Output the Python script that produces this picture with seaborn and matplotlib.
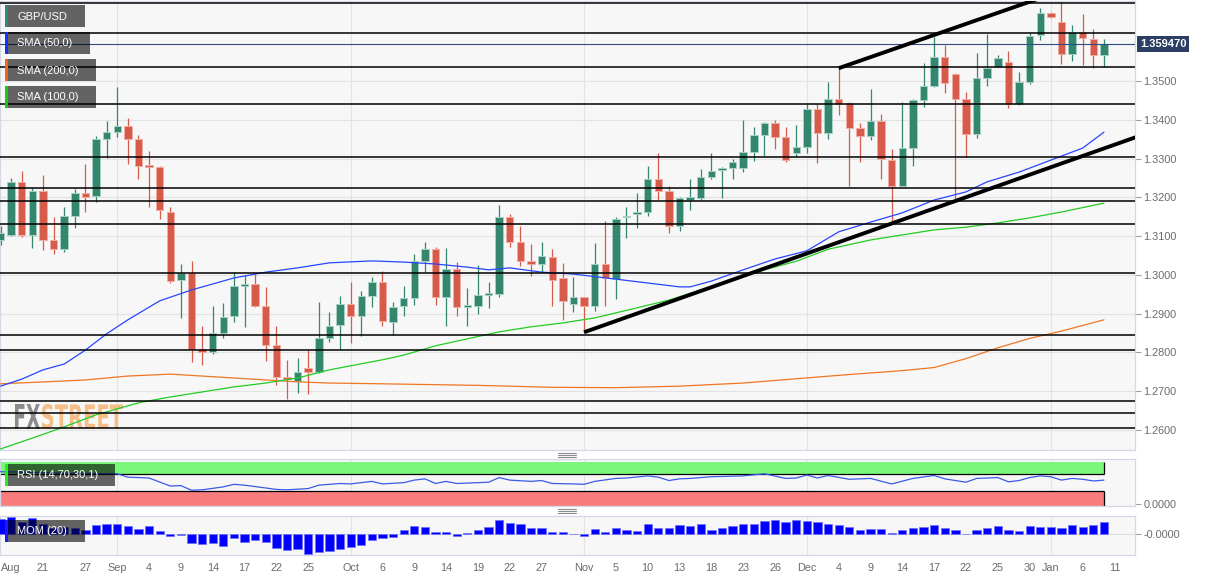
import matplotlib
matplotlib.use("Agg")
import numpy as np
import matplotlib.pyplot as plt
import seaborn as sns
from matplotlib.patches import Rectangle, PathPatch
from matplotlib.lines import Line2D
from matplotlib.transforms import Affine2D
from matplotlib.textpath import TextPath
from matplotlib.font_manager import FontProperties

# --- GBP/USD daily candles, one per weekday: index 0 = 17 Aug 2020 ... index 104 = 8 Jan 2021 ---
opens = [
    1.3091, 1.3104, 1.3240, 1.3102, 1.3215, 1.3089, 1.3066, 1.3153, 1.3212, 1.3204,
    1.3351, 1.3369, 1.3384, 1.3351, 1.3282, 1.3279, 1.3163, 1.2986, 1.3004, 1.2809,
    1.2801, 1.2850, 1.2893, 1.2971, 1.2976, 1.2919, 1.2819, 1.2737, 1.2726, 1.2760,
    1.2750, 1.2837, 1.2870, 1.2924, 1.2893, 1.2945, 1.2981, 1.2878, 1.2919, 1.2940,
    1.3035, 1.3066, 1.2942, 1.3014, 1.2917, 1.2919, 1.2947, 1.2950, 1.3150, 1.3084,
    1.3037, 1.3027, 1.3045, 1.2991, 1.2924, 1.2942, 1.2919, 1.3027, 1.2989, 1.3148,
    1.3158, 1.3161, 1.3248, 1.3217, 1.3125, 1.3194, 1.3199, 1.3253, 1.3271, 1.3276,
    1.3276, 1.3318, 1.3361, 1.3392, 1.3356, 1.3315, 1.3330, 1.3428, 1.3366, 1.3454,
    1.3443, 1.3379, 1.3359, 1.3397, 1.3297, 1.3228, 1.3328, 1.3451, 1.3487, 1.3562,
    1.3518, 1.3454, 1.3364, 1.3508, 1.3536, 1.3549, 1.3441, 1.3497, 1.3618, 1.3675,
    1.3652, 1.3569, 1.3626, 1.3608, 1.3567,
]
highs = [
    1.3125, 1.3251, 1.3269, 1.3225, 1.3258, 1.3150, 1.3174, 1.3222, 1.3287, 1.3359,
    1.3397, 1.3485, 1.3405, 1.3361, 1.3320, 1.3282, 1.3176, 1.3027, 1.3035, 1.2868,
    1.2919, 1.2927, 1.3007, 1.2999, 1.3001, 1.2968, 1.2868, 1.2780, 1.2786, 1.2806,
    1.2929, 1.2904, 1.2945, 1.2981, 1.2958, 1.2994, 1.3009, 1.2930, 1.2971, 1.3053,
    1.3086, 1.3073, 1.3068, 1.3032, 1.2965, 1.3025, 1.2981, 1.3179, 1.3158, 1.3125,
    1.3079, 1.3084, 1.3066, 1.3030, 1.2994, 1.2944, 1.3081, 1.3140, 1.3150, 1.3176,
    1.3210, 1.3282, 1.3315, 1.3228, 1.3200, 1.3246, 1.3274, 1.3315, 1.3279, 1.3300,
    1.3400, 1.3382, 1.3395, 1.3400, 1.3382, 1.3387, 1.3441, 1.3441, 1.3497, 1.3533,
    1.3445, 1.3392, 1.3479, 1.3415, 1.3325, 1.3446, 1.3454, 1.3546, 1.3613, 1.3593,
    1.3520, 1.3472, 1.3572, 1.3621, 1.3567, 1.3577, 1.3523, 1.3623, 1.3688, 1.3677,
    1.3703, 1.3644, 1.3672, 1.3634, 1.3608,
]
lows = [
    1.3078, 1.3099, 1.3097, 1.3068, 1.3063, 1.3055, 1.3058, 1.3120, 1.3163, 1.3189,
    1.3302, 1.3356, 1.3287, 1.3246, 1.3176, 1.3143, 1.2980, 1.2888, 1.2775, 1.2768,
    1.2796, 1.2837, 1.2878, 1.2865, 1.2917, 1.2778, 1.2716, 1.2680, 1.2696, 1.2693,
    1.2748, 1.2827, 1.2809, 1.2824, 1.2842, 1.2917, 1.2868, 1.2845, 1.2893, 1.2922,
    1.3007, 1.2922, 1.2868, 1.2893, 1.2868, 1.2899, 1.2914, 1.2942, 1.3073, 1.3022,
    1.2996, 1.3007, 1.2919, 1.2883, 1.2904, 1.2852, 1.2906, 1.2919, 1.2937, 1.3094,
    1.3122, 1.3153, 1.3192, 1.3109, 1.3112, 1.3166, 1.3194, 1.3246, 1.3199, 1.3248,
    1.3264, 1.3294, 1.3307, 1.3325, 1.3292, 1.3305, 1.3315, 1.3289, 1.3351, 1.3413,
    1.3228, 1.3292, 1.3348, 1.3248, 1.3138, 1.3228, 1.3282, 1.3433, 1.3485, 1.3469,
    1.3189, 1.3305, 1.3354, 1.3487, 1.3536, 1.3431, 1.3438, 1.3492, 1.3605, 1.3662,
    1.3544, 1.3551, 1.3541, 1.3533, 1.3536,
]
closes = [
    1.3107, 1.3240, 1.3102, 1.3215, 1.3091, 1.3066, 1.3153, 1.3212, 1.3202, 1.3351,
    1.3369, 1.3384, 1.3351, 1.3282, 1.3279, 1.3166, 1.2983, 1.3004, 1.2809, 1.2801,
    1.2850, 1.2891, 1.2971, 1.2976, 1.2919, 1.2819, 1.2737, 1.2732, 1.2750, 1.2750,
    1.2837, 1.2868, 1.2924, 1.2893, 1.2945, 1.2981, 1.2881, 1.2917, 1.2940, 1.3035,
    1.3066, 1.2942, 1.3014, 1.2917, 1.2919, 1.2947, 1.2953, 1.3150, 1.3084, 1.3037,
    1.3027, 1.3048, 1.2986, 1.2932, 1.2942, 1.2919, 1.3027, 1.2991, 1.3145, 1.3153,
    1.3163, 1.3248, 1.3217, 1.3125, 1.3197, 1.3202, 1.3253, 1.3269, 1.3276, 1.3292,
    1.3318, 1.3361, 1.3392, 1.3356, 1.3297, 1.3330, 1.3428, 1.3366, 1.3454, 1.3441,
    1.3379, 1.3359, 1.3397, 1.3300, 1.3228, 1.3328, 1.3451, 1.3487, 1.3562, 1.3495,
    1.3454, 1.3364, 1.3508, 1.3533, 1.3559, 1.3441, 1.3497, 1.3616, 1.3675, 1.3664,
    1.3569, 1.3626, 1.3611, 1.3567, 1.35947,
]

# moving averages (day index, value)
sma50_idx = [0, 2, 4, 6, 8, 10, 12, 15, 18, 22, 25, 28, 31, 35, 38, 41, 44, 46, 48, 51,
             54, 58, 61, 64, 65, 67, 70, 73, 76, 79, 82, 85, 88, 91, 93, 96, 99, 102, 104]
sma50 = [1.2713, 1.2731, 1.2755, 1.2770, 1.2806, 1.2848, 1.2884, 1.2933, 1.2961, 1.2992,
         1.3007, 1.3018, 1.3031, 1.3036, 1.3033, 1.3028, 1.3020, 1.3013, 1.3018, 1.3007,
         1.3002, 1.2989, 1.2979, 1.2969, 1.2969, 1.2984, 1.3013, 1.3041, 1.3062, 1.3111,
         1.3136, 1.3160, 1.3193, 1.3214, 1.3240, 1.3265, 1.3296, 1.3327, 1.3368]
sma100_idx = [0, 3, 6, 9, 13, 16, 19, 22, 25, 28, 31, 36, 38, 41, 44, 47, 50, 53, 56, 60,
              63, 66, 69, 72, 75, 78, 82, 85, 88, 91, 94, 97, 100, 104]
sma100 = [1.2551, 1.2579, 1.2608, 1.2639, 1.2670, 1.2685, 1.2698, 1.2711, 1.2721, 1.2734,
          1.2755, 1.2781, 1.2793, 1.2817, 1.2835, 1.2853, 1.2866, 1.2876, 1.2889, 1.2915,
          1.2935, 1.2961, 1.2987, 1.3013, 1.3035, 1.3066, 1.3090, 1.3103, 1.3116, 1.3123,
          1.3134, 1.3147, 1.3162, 1.3185]
sma200_idx = [0, 5, 8, 12, 16, 19, 22, 25, 28, 31, 36, 45, 52, 58, 64, 70, 75, 80, 85, 88,
              91, 94, 97, 100, 104]
sma200 = [1.2719, 1.2725, 1.2729, 1.2739, 1.2744, 1.2739, 1.2734, 1.2729, 1.2724, 1.2721,
          1.2719, 1.2715, 1.2710, 1.2709, 1.2713, 1.2721, 1.2732, 1.2743, 1.2753, 1.2761,
          1.2784, 1.2812, 1.2836, 1.2855, 1.2884]

# RSI (14)
rsi_idx = [0, 2, 5, 8, 11, 12, 14, 16, 17, 18, 19, 21, 22, 23, 26, 27, 29, 30, 32, 33,
           35, 36, 38, 39, 40, 41, 42, 43, 45, 46, 47, 48, 50, 51, 52, 54, 55, 56, 58, 59,
           61, 62, 63, 64, 65, 67, 70, 72, 74, 75, 76, 77, 78, 80, 82, 84, 86, 88, 89, 91,
           92, 94, 95, 96, 97, 98, 99, 100, 101, 102, 103, 104]
rsi = [76, 75, 73, 72, 71, 63, 61, 42, 43, 32, 33, 40, 46, 44, 34, 33, 36, 44, 48, 47,
       53, 47, 50, 56, 59, 48, 53, 48, 50, 51, 62, 56, 53, 55, 48, 47, 46, 53, 60, 61,
       66, 63, 55, 59, 60, 64, 66, 71, 60, 61, 68, 61, 67, 58, 60, 47, 60, 67, 59, 51,
       60, 62, 52, 55, 62, 66, 64, 56, 60, 58, 54, 56]

# momentum (20), one bar per candle
mom = [0.043, 0.050, 0.035, 0.046, 0.028, 0.018, 0.019, 0.018, 0.010, 0.026,
       0.028, 0.030, 0.022, 0.014, 0.022, 0.007, -0.008, -0.005, -0.028, -0.030,
       -0.028, -0.037, -0.014, -0.025, -0.018, -0.025, -0.043, -0.049, -0.047, -0.062,
       -0.054, -0.053, -0.045, -0.041, -0.035, -0.020, -0.012, -0.010, 0.012, 0.022,
       0.020, 0.004, 0.004, -0.007, 0.001, 0.012, 0.021, 0.042, 0.033, 0.028,
       0.018, 0.016, 0.005, 0.004, 0.000, -0.007, 0.013, 0.005, 0.018, 0.010,
       0.008, 0.030, 0.018, 0.018, 0.026, 0.023, 0.029, 0.010, 0.017, 0.024,
       0.028, 0.030, 0.039, 0.042, 0.034, 0.040, 0.039, 0.036, 0.030, 0.027,
       0.020, 0.010, 0.015, 0.015, 0.002, 0.011, 0.017, 0.020, 0.027, 0.018,
       0.012, 0.000, 0.010, 0.016, 0.024, 0.010, 0.007, 0.023, 0.021, 0.021,
       0.017, 0.025, 0.020, 0.025, 0.036]

# horizontal support / resistance lines and the two trend lines
levels = [1.3700, 1.3625, 1.3535, 1.3440, 1.3305, 1.3225, 1.3190, 1.3130, 1.3005,
          1.2845, 1.2805, 1.2675, 1.2645, 1.2605]
trend_up_idx, trend_up = [79, 100], [1.3533, 1.3733]
trend_low_idx, trend_low = [55, 107], [1.2852, 1.3355]

price_ticks = [1.26, 1.27, 1.28, 1.29, 1.30, 1.31, 1.32, 1.33, 1.34, 1.35]
month_idx = [11, 33, 55, 76, 99]
tick_idx = [0, 4, 8, 11, 14, 17, 20, 23, 26, 29, 33, 36, 39, 42, 45, 48, 51, 55, 58, 61,
            64, 67, 70, 73, 76, 79, 82, 85, 88, 91, 94, 97, 99, 102, 105]
tick_labels = ['Aug', '21', '27', 'Sep', '4', '9', '14', '17', '22', '25', 'Oct', '6', '9',
               '14', '19', '22', '27', 'Nov', '5', '10', '13', '18', '23', '26', 'Dec', '4',
               '9', '14', '17', '22', '25', '30', 'Jan', '6', '11']

sns.set_style("white")
plt.rcParams['font.family'] = ['Liberation Sans', 'DejaVu Sans']

W, H = 1212, 581
fig = plt.figure(figsize=(W / 100, H / 100), dpi=100)
px = Affine2D().scale(1, -1).translate(0, H)  # pixel coords measured from top-left


def panel(y0, y1, x0=0, x1=1135):
    return fig.add_axes([x0 / W, 1 - y1 / H, (x1 - x0) / W, (y1 - y0) / H])


ax = panel(0.5, 450)
ax_rsi = panel(459, 506)
ax_mom = panel(516, 555)

XLIM = (-0.05, 106.93)
for a in (ax, ax_rsi, ax_mom):
    a.set_facecolor('#f7f7f7')
    a.set_xlim(*XLIM)
    a.yaxis.tick_right()
    a.tick_params(axis='y', length=4, width=0.8, color='#a0a0a0', labelcolor='#6b6b6b',
                  labelsize=7.8, pad=2)
    for s in a.spines.values():
        s.set_color('#d3d8e4')
        s.set_linewidth(0.9)
    for m in month_idx:
        a.axvline(m, color='#e3e3e3', lw=0.8, zorder=0)

# --- main price panel ---
ax.set_ylim(1.25483, 1.37076)
ax.set_yticks(price_ticks, [f"{t:.4f}" for t in price_ticks])
ax.set_xticks([])
for t in price_ticks:
    ax.axhline(t, color='#e3e3e3', lw=0.8, zorder=0)

idx = np.arange(len(closes))
o, h, l, c = map(np.array, (opens, highs, lows, closes))
up = c >= o
body = np.where(up, '#34866f', '#d65b4b')
edge = np.where(up, '#a6d0c4', '#f2aca3')
ax.vlines(idx, l, h, colors=body, lw=0.9, zorder=4)
height = np.maximum(np.abs(c - o), 0.0004)
ax.bar(idx, height, bottom=np.minimum(o, c), width=0.7, color=body, edgecolor=edge,
       linewidth=0.7, zorder=5)

sns.lineplot(x=sma200_idx, y=sma200, ax=ax, color='#ee7722', lw=0.9, zorder=5.5)
sns.lineplot(x=sma100_idx, y=sma100, ax=ax, color='#22cc22', lw=0.9, zorder=5.5)
sns.lineplot(x=sma50_idx, y=sma50, ax=ax, color='#2846ff', lw=0.9, zorder=5.5)

ax.hlines(levels, *XLIM, color='black', lw=1.1, zorder=6)
ax.plot(trend_up_idx, trend_up, color='black', lw=2.8, zorder=7, solid_capstyle='butt')
ax.plot(trend_low_idx, trend_low, color='black', lw=2.8, zorder=7, solid_capstyle='butt')
ax.axhline(closes[-1], color='#2d4d80', lw=0.8, zorder=6)
ax.annotate(f"{closes[-1]:.6f}", xy=(1, closes[-1]), xycoords=('axes fraction', 'data'),
            xytext=(3.5, 0), textcoords='offset points', ha='left', va='center',
            color='white', fontsize=8, fontweight='bold', annotation_clip=False,
            bbox=dict(boxstyle='square,pad=0.25', fc='#2b3f63', ec='none'))


def tag(a, text, x0, y0, x1, y1, strip):
    a.add_patch(Rectangle((x0, y0), x1 - x0, y1 - y0, transform=px, fc='black',
                          alpha=0.6, ec='none', zorder=8))
    a.add_patch(Rectangle((x0, y0), 3, y1 - y0, transform=px, fc=strip, ec='none', zorder=8))
    a.text(x0 + 12, (y0 + y1) / 2 + 0.5, text, transform=px, color='white', fontsize=8,
           va='center', ha='left', zorder=9)


tag(ax, 'GBP/USD', 5, 5, 85, 27, '#2e8a74')
tag(ax, 'SMA (50,0)', 5, 32, 90, 54, '#1133ff')
tag(ax, 'SMA (200,0)', 5, 59, 96, 81, '#ee6611')
tag(ax, 'SMA (100,0)', 5, 86, 96, 108, '#11cc11')

# FXSTREET watermark, squeezed to its condensed shape
fp = FontProperties(family='DejaVu Sans', weight='bold')
for word, x0, x1, col in (('FX', 15, 40, '#8b8b8f'), ('STREET', 42, 123, '#f4be86')):
    tp = TextPath((0, 0), word, size=10, prop=fp)
    ext = tp.get_extents()
    tr = (Affine2D().translate(-ext.x0, -ext.y0)
          .scale((x1 - x0) / ext.width, 25 / ext.height).translate(x0, H - 429))
    ax.add_patch(PathPatch(tp, transform=tr, fc=col, ec='none', zorder=0.6))

# --- RSI panel ---
ax_rsi.set_ylim(-5.3, 106)
ax_rsi.set_yticks([0], ['0.0000'])
ax_rsi.set_xticks([])
last = idx[-1]
ax_rsi.fill_between([XLIM[0], last], 70, 100, color='#7af87a', lw=0, zorder=1)
ax_rsi.fill_between([XLIM[0], last], -5.3, 30, color='#fa7d7d', lw=0, zorder=1)
ax_rsi.hlines([70, 30], XLIM[0], last, color='black', lw=0.9, zorder=2)
ax_rsi.vlines(last, 70, 100, color='black', lw=0.9, zorder=2)
ax_rsi.vlines(last, -5.3, 30, color='black', lw=0.9, zorder=2)
sns.lineplot(x=rsi_idx, y=rsi, ax=ax_rsi, color='#3a5ae8', lw=0.9, zorder=3)
ax_rsi.set_ylabel('')
tag(ax_rsi, 'RSI (14,70,30,1)', 5, 464, 115, 486, '#22ee22')

# --- momentum panel ---
ax_mom.set_ylim(-0.064, 0.053)
ax_mom.set_yticks([0], ['-0.0000'])
ax_mom.axhline(0, color='#dedede', lw=0.8, zorder=0)
ax_mom.bar(idx, mom, width=0.78, color='#0000ff', edgecolor='#7070ff', linewidth=0.5, zorder=3)
ax_mom.set_xticks(tick_idx, tick_labels)
ax_mom.tick_params(axis='x', length=4, width=0.8, color='#a0a0a0', labelcolor='#6b6b6b',
                   labelsize=7.8, pad=2)
ax_mom.get_xticklabels()[0].set_ha('left')
tag(ax_mom, 'MOM (20)', 5, 520, 85, 542, '#1a1aff')

# drag handles between panels
for yc in (455, 511):
    for dy in (-2, 0, 2):
        fig.add_artist(Line2D([558, 576], [yc + dy] * 2, transform=px, color='#8c8c8c', lw=0.8))

fig.savefig('out.png', dpi=100, facecolor='white')
